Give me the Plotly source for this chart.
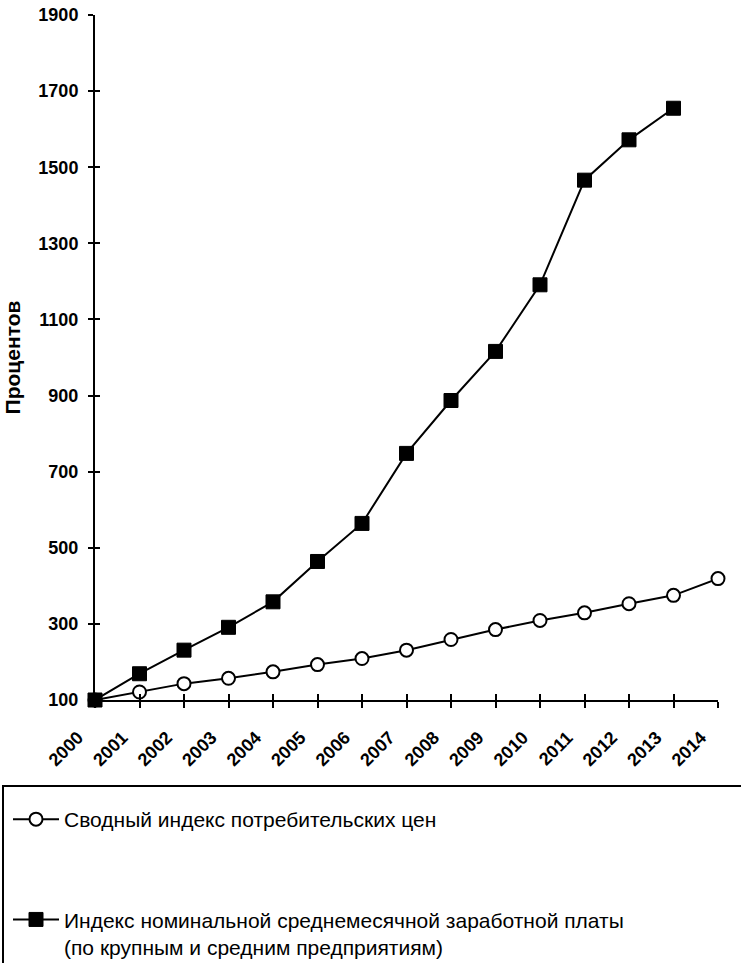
import plotly.graph_objects as go

years = list(range(2000, 2015))
cpi = [100, 121, 143, 157, 174, 193, 209, 231, 259, 285, 309, 329, 353, 375, 419]
wage_years = list(range(2000, 2014))
wage = [100, 169, 231, 291, 358, 464, 564, 748, 887, 1016, 1191, 1466, 1572, 1655]
y_ticks = [100, 300, 500, 700, 900, 1100, 1300, 1500, 1700, 1900]
name_cpi = "Сводный индекс потребительских цен"
name_wage = "Индекс номинальной среднемесячной заработной платы<br>(по крупным и средним предприятиям)"
y_title = "Процентов"

W, H = 741, 963
# plot area in pixels
SX0, SX1, SY0, SY1 = 95, 718, 15, 700
L, T = SX0, SY0
R, B = W - SX1, H - SY1
pw, ph = SX1 - SX0, SY1 - SY0

def px_x(p):
    return (p - SX0) / pw

def px_y(p):
    return (SY1 - p) / ph

fig = go.Figure()
fig.add_trace(go.Scatter(
    x=years, y=cpi, name=name_cpi, mode="lines+markers", legendgroup="a",
    line=dict(color="black", width=2),
    marker=dict(symbol="circle", size=13, color="white", line=dict(color="black", width=2)),
    cliponaxis=False,
))
fig.add_trace(go.Scatter(
    x=wage_years, y=wage, name=name_wage, mode="lines+markers", legendgroup="b",
    line=dict(color="black", width=2),
    marker=dict(symbol="square", size=14, color="black", line=dict(color="black", width=1)),
    cliponaxis=False,
))
# invisible trace so the overlay axes (inner half of the crossing ticks) are drawn
fig.add_trace(go.Scatter(x=years, y=cpi, xaxis="x2", yaxis="y2", mode="none",
                         showlegend=False, hoverinfo="skip"))

tickfont = dict(family="Liberation Sans, Arial, sans-serif", size=18, color="black", weight="bold")

fig.update_layout(
    width=W, height=H,
    margin=dict(l=L, r=R, t=T, b=B, autoexpand=False),
    paper_bgcolor="white", plot_bgcolor="white",
    showlegend=True,
    xaxis=dict(range=[2000, 2014], tickvals=years, ticktext=[str(y) for y in years],
               tickangle=-45, showgrid=False, zeroline=False, showline=True,
               linecolor="black", linewidth=2, ticks="outside", ticklen=6, tickwidth=2,
               tickcolor="black", tickfont=tickfont, ticklabelshift=-17,
               ticklabelstandoff=12, automargin=False),
    yaxis=dict(range=[100, 1900], tickvals=y_ticks, showgrid=False, zeroline=False,
               showline=True, linecolor="black", linewidth=2, ticks="outside", ticklen=5,
               tickwidth=2, tickcolor="black", tickfont=tickfont, ticklabelstandoff=6,
               automargin=False,
               title=dict(text=y_title, standoff=12,
                          font=dict(family="Liberation Sans, Arial, sans-serif", size=21,
                                    color="black", weight="bold"))),
    xaxis2=dict(range=[2000, 2014], tickvals=years, overlaying="x", anchor="y2",
                showticklabels=False, showgrid=False, zeroline=False, showline=False,
                ticks="inside", ticklen=6, tickwidth=2, tickcolor="black"),
    yaxis2=dict(range=[100, 1900], tickvals=y_ticks, overlaying="y", anchor="x2",
                showticklabels=False, showgrid=False, zeroline=False, showline=False,
                ticks="inside", ticklen=5, tickwidth=2, tickcolor="black"),
    legend=dict(x=px_x(8), y=px_y(799), xanchor="left", yanchor="top",
                bgcolor="rgba(0,0,0,0)", borderwidth=0, tracegroupgap=70, valign="top",
                itemwidth=46,
                font=dict(family="Liberation Sans, Arial, sans-serif", size=21, color="black")),
    shapes=[dict(type="rect", xref="paper", yref="paper",
                 x0=px_x(3), x1=px_x(790), y0=px_y(786), y1=px_y(1010),
                 line=dict(color="black", width=2), fillcolor="rgba(0,0,0,0)")],
)

fig.write_html("out.html", post_script="document.body.style.margin='0';",
               config={"displayModeBar": False})
